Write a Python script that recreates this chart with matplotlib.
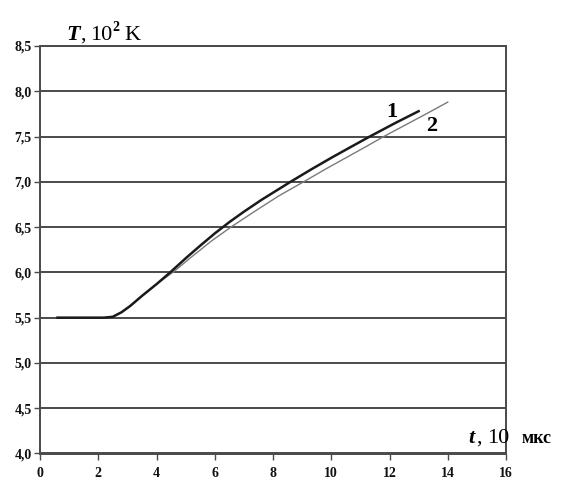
import matplotlib
matplotlib.use("Agg")
import matplotlib.pyplot as plt

# curve 1 and curve 2, t in 10 mks, T in 10^2 K
t1 = [0.6, 1.5, 2.2, 2.5, 2.8, 3.1, 3.5, 4.0, 4.47, 5.0, 5.5, 6.0, 6.5, 7.0,
      7.6, 8.25, 8.6, 9.3, 10.0, 10.7, 11.35, 12.2, 13.0]
T1 = [5.50, 5.50, 5.50, 5.51, 5.56, 5.63, 5.74, 5.87, 6.00, 6.155, 6.295, 6.43,
      6.555, 6.67, 6.80, 6.93, 7.00, 7.135, 7.265, 7.39, 7.505, 7.65, 7.78]
t2 = [0.6, 1.5, 2.2, 2.5, 2.8, 3.1, 3.5, 4.0, 4.6, 5.2, 5.9, 6.6, 7.4, 8.2,
      9.05, 9.8, 10.5, 11.2, 11.8, 12.5, 13.2, 14.0]
T2 = [5.50, 5.50, 5.50, 5.51, 5.56, 5.63, 5.74, 5.87, 6.01, 6.17, 6.35, 6.51,
      6.68, 6.845, 7.00, 7.14, 7.265, 7.39, 7.50, 7.62, 7.74, 7.88]

xticks = [0, 2, 4, 6, 8, 10, 12, 14, 16]
yticks = [4.0, 4.5, 5.0, 5.5, 6.0, 6.5, 7.0, 7.5, 8.0, 8.5]
ylabels = ["4,0", "4,5", "5,0", "5,5", "6,0", "6,5", "7,0", "7,5", "8,0", "8,5"]
curve_labels = [("1", 12.09, 7.77), ("2", 13.45, 7.615)]

plt.rcParams['font.family'] = ['Liberation Serif', 'DejaVu Serif']

W, H = 569, 480
fig = plt.figure(figsize=(W / 100, H / 100), dpi=100)
fig.set_facecolor('white')
ax = fig.add_axes([40 / W, 1 - 453.5 / H, (506 - 40) / W, (453.5 - 46) / H])

grid_c = '#4a4a4a'
for y in yticks:
    ax.axhline(y, color=grid_c, lw=1.4, zorder=1)

ax.plot(t2, T2, color='#7a7a7a', lw=1.0, zorder=3)
ax.plot(t1, T1, color='#1a1a1a', lw=1.8, zorder=4)

for txt, x, y in curve_labels:
    ax.text(x, y, txt, fontsize=16, fontweight='bold', ha='center', va='center')

ax.set_xlim(0, 16)
ax.set_ylim(4.0, 8.5)
ax.set_xticks(xticks)
ax.set_xticklabels([str(v) for v in xticks])
ax.set_yticks(yticks)
ax.set_yticklabels(ylabels)
for s in ax.spines.values():
    s.set_color(grid_c)
    s.set_linewidth(1.4)
ax.tick_params(axis='both', colors=grid_c, length=4, width=1.0, labelsize=10,
               labelcolor='#111111')
ax.tick_params(axis='x', pad=6)
ax.tick_params(axis='y', pad=2)
for lab in ax.get_xticklabels() + ax.get_yticklabels():
    lab.set_fontweight('bold')


def ftext(px, py, s, **kw):
    fig.text(px / W, 1 - py / H, s, ha='left', va='baseline', **kw)


# y axis label: T, 10^2 K
ftext(66, 40, "T", fontsize=16, fontweight='bold', fontstyle='italic')
ftext(80, 40, ",", fontsize=16)
ftext(90, 40, "10", fontsize=16)
ftext(112, 31, "2", fontsize=10, fontweight='bold')
ftext(124, 40, "K", fontsize=16)

# x axis label: t, 10 мкс
ftext(468, 443, "t", fontsize=16, fontweight='bold', fontstyle='italic')
ftext(476, 443, ",", fontsize=16)
ftext(487, 443, "10", fontsize=16)
ftext(522, 443, "мкс", fontsize=13, fontweight='bold')

fig.savefig('out.png', dpi=100, facecolor='white')
